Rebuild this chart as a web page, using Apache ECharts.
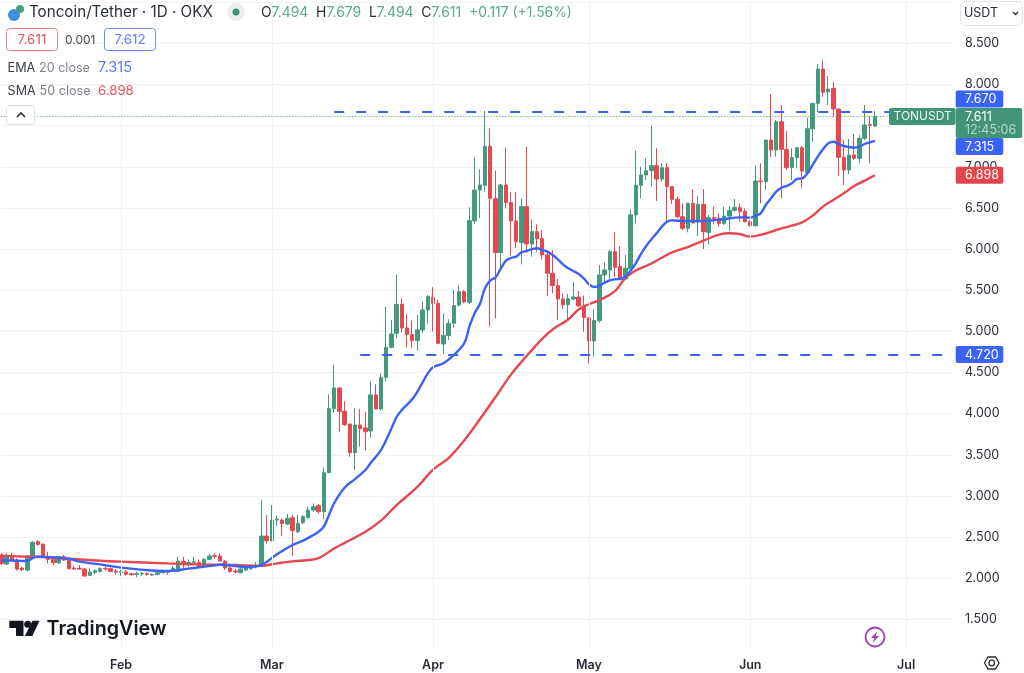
<!DOCTYPE html>
<html><head><meta charset="utf-8">
<style>html,body{margin:0;padding:0;background:#fff}#c{width:1024px;height:673px;filter:blur(0.35px)}</style>
<script src="https://cdn.jsdelivr.net/npm/echarts@6/dist/echarts.min.js"></script>
</head><body><div id="c"></div>
<script>
// Daily candles from 9 Jan, as [open, close, low, high]
const ohlc = [
[2.283,2.181,2.161,2.303],[2.173,2.271,2.161,2.303],[2.275,2.222,2.202,2.311],[2.222,2.113,2.092,2.242],[2.125,2.105,2.092,2.141],
[2.101,2.271,2.080,2.283],[2.271,2.437,2.263,2.449],[2.445,2.412,2.392,2.465],[2.416,2.263,2.254,2.416],[2.263,2.230,2.181,2.323],
[2.230,2.190,2.161,2.263],[2.190,2.263,2.173,2.271],[2.263,2.222,2.210,2.283],[2.222,2.117,2.109,2.230],[2.125,2.113,2.101,2.149],
[2.121,2.113,2.101,2.161],[2.113,2.028,2.019,2.121],[2.036,2.076,2.028,2.121],[2.072,2.092,2.052,2.109],[2.084,2.117,2.072,2.133],
[2.121,2.113,2.092,2.141],[2.117,2.084,2.076,2.129],[2.088,2.076,2.044,2.113],[2.072,2.080,2.028,2.101],[2.076,2.048,2.032,2.101],
[2.056,2.044,2.028,2.068],[2.048,2.056,2.011,2.080],[2.052,2.060,2.028,2.076],[2.056,2.048,2.032,2.072],[2.040,2.048,2.028,2.060],
[2.048,2.068,2.036,2.084],[2.068,2.092,2.060,2.109],[2.084,2.072,2.044,2.101],[2.092,2.121,2.076,2.149],[2.084,2.210,2.076,2.263],
[2.206,2.169,2.121,2.263],[2.165,2.194,2.141,2.230],[2.194,2.202,2.173,2.263],[2.194,2.141,2.129,2.230],[2.141,2.230,2.129,2.242],
[2.230,2.271,2.222,2.295],[2.275,2.267,2.242,2.303],[2.271,2.210,2.202,2.303],[2.206,2.125,2.101,2.222],[2.125,2.084,2.068,2.141],
[2.088,2.076,2.060,2.117],[2.068,2.113,2.060,2.141],[2.101,2.125,2.084,2.157],[2.117,2.141,2.101,2.161],[2.141,2.153,2.121,2.198],
[2.153,2.514,2.153,2.950],[2.514,2.457,2.424,2.769],[2.457,2.708,2.445,2.890],[2.708,2.720,2.635,2.757],[2.708,2.667,2.514,2.728],
[2.659,2.728,2.647,2.781],[2.736,2.578,2.271,2.769],[2.566,2.667,2.546,2.769],[2.676,2.749,2.659,2.769],[2.736,2.829,2.728,2.870],
[2.829,2.870,2.809,2.910],[2.882,2.809,2.789,2.902],[2.810,3.284,2.717,3.349],[3.284,4.062,3.276,4.236],[4.062,4.313,4.013,4.592],
[4.313,4.029,3.778,4.313],[4.029,3.867,3.851,4.151],[3.875,3.527,3.478,3.875],[3.527,3.863,3.316,4.066],[3.863,3.819,3.600,4.058],
[3.827,3.782,3.551,4.021],[3.790,4.228,3.709,4.394],[4.228,4.058,4.058,4.357],[4.058,4.442,4.037,4.491],[4.442,4.807,4.390,5.301],
[4.807,4.969,4.795,5.139],[4.977,5.329,4.916,5.686],[5.329,5.042,4.985,5.402],[5.042,4.961,4.807,5.208],[4.961,4.888,4.799,5.131],
[4.888,5.018,4.766,5.200],[5.018,5.261,4.977,5.362],[5.261,5.422,5.098,5.443],[5.414,5.341,4.997,5.536],[5.341,4.855,4.847,5.382],
[4.847,4.949,4.726,5.220],[4.949,5.098,4.896,5.147],[5.098,5.313,5.046,5.504],[5.321,5.483,5.301,5.560],[5.483,5.358,5.341,5.504],
[5.354,6.346,5.333,6.508],[6.342,6.718,6.305,7.115],[6.718,6.779,6.374,6.970],[6.775,7.249,6.698,7.678],[7.249,6.617,5.058,7.468],
[6.613,5.957,5.159,6.953],[5.957,6.779,5.746,6.791],[6.779,6.565,6.496,7.233],[6.565,6.342,5.921,6.694],[6.342,6.091,6.010,6.694],
[6.079,6.516,5.815,6.613],[6.516,6.062,5.957,7.245],[6.062,6.212,5.908,6.362],[6.212,6.127,5.969,6.301],[6.127,5.929,5.876,6.232],
[5.929,5.706,5.431,5.989],[5.706,5.556,5.463,5.989],[5.556,5.394,5.139,5.637],[5.394,5.325,5.269,5.463],[5.325,5.398,5.147,5.455],
[5.394,5.418,5.382,5.597],[5.418,5.309,5.301,5.491],[5.309,5.167,4.997,5.435],[5.167,4.884,4.612,5.167],[4.884,5.131,4.693,5.269],
[5.131,5.686,5.107,5.807],[5.686,5.746,5.584,5.836],[5.746,5.969,5.625,5.989],[5.969,5.779,5.665,6.204],[5.787,5.645,5.625,6.030],
[5.637,5.767,5.625,5.929],[5.759,6.415,5.746,6.484],[6.415,6.775,6.313,7.196],[6.775,6.901,6.617,7.002],[6.901,6.953,6.840,7.103],
[6.953,7.014,6.759,7.500],[7.014,6.852,6.585,7.225],[6.852,6.990,6.820,7.042],[6.990,6.759,6.334,7.042],[6.759,6.605,6.548,6.767],
[6.605,6.394,6.374,6.637],[6.394,6.252,6.232,6.556],[6.252,6.556,6.204,6.556],[6.556,6.321,6.313,6.730],[6.329,6.544,6.159,6.649],
[6.544,6.212,6.001,6.730],[6.204,6.382,6.058,6.414],[6.382,6.370,6.301,6.515],[6.374,6.313,6.272,6.434],[6.313,6.402,6.293,6.515],
[6.402,6.471,6.220,6.524],[6.471,6.507,6.455,6.609],[6.503,6.459,6.333,6.556],[6.459,6.333,6.325,6.495],[6.333,6.285,6.273,6.354],
[6.285,6.827,6.273,7.014],[6.827,6.819,6.556,7.042],[6.819,7.325,6.718,7.325],[7.325,7.204,7.115,7.880],[7.204,7.548,7.123,7.569],
[7.548,7.212,6.617,7.751],[7.212,6.989,6.961,7.435],[6.993,7.111,6.839,7.224],[7.111,7.232,6.981,7.236],[7.232,6.949,6.746,7.257],
[6.929,7.463,6.921,7.597],[7.463,7.771,7.305,7.771],[7.771,8.188,7.670,8.249],[8.188,7.905,7.852,8.297],[7.913,7.945,7.751,8.103],
[7.953,7.702,7.609,8.034],[7.702,7.115,6.888,7.710],[7.115,6.961,6.779,7.325],[6.961,7.143,6.912,7.338],[7.143,7.103,7.083,7.398],
[7.103,7.346,7.042,7.386],[7.346,7.508,7.325,7.751],[7.512,7.504,7.042,7.617],[7.494,7.611,7.494,7.679]
];
// Moving averages as [day number, value]
const ema20 = [[0,2.220],[3,2.214],[5,2.210],[6,2.246],[7,2.263],[10,2.254],[13,2.238],[15,2.202],[19,2.169],[23,2.129],[27,2.105],[31,2.088],[33,2.092],[36,2.117],[38,2.133],[41,2.157],[42,2.165],[45,2.149],[47,2.137],[49,2.145],[50,2.161],[51,2.198],[53,2.291],[56,2.404],[58,2.457],[60,2.526],[61,2.566],[62,2.627],[63,2.770],[64,2.915],[66,3.101],[68,3.205],[70,3.316],[71,3.400],[73,3.559],[75,3.820],[76,3.960],[77,4.045],[79,4.175],[80,4.268],[82,4.491],[83,4.564],[85,4.612],[87,4.714],[89,4.855],[90,5.058],[91,5.220],[92,5.330],[93,5.524],[94,5.617],[95,5.653],[96,5.759],[97,5.856],[98,5.892],[99,5.908],[100,5.961],[101,5.977],[102,5.998],[103,6.010],[104,5.989],[105,5.969],[106,5.929],[107,5.876],[108,5.815],[109,5.767],[110,5.734],[111,5.698],[112,5.645],[113,5.572],[114,5.540],[115,5.552],[116,5.593],[117,5.621],[118,5.633],[119,5.637],[120,5.665],[121,5.738],[122,5.827],[123,5.941],[124,6.038],[125,6.119],[126,6.192],[127,6.273],[128,6.333],[129,6.349],[130,6.345],[132,6.341],[135,6.341],[139,6.366],[142,6.386],[144,6.382],[145,6.406],[146,6.435],[147,6.536],[148,6.617],[149,6.698],[150,6.746],[151,6.767],[152,6.799],[153,6.852],[154,6.860],[155,6.921],[156,7.022],[157,7.123],[158,7.212],[159,7.285],[160,7.305],[161,7.277],[162,7.253],[163,7.240],[164,7.232],[165,7.245],[166,7.277],[167,7.297],[168,7.315]];
const sma50 = [[0,2.275],[4,2.263],[8,2.258],[13,2.238],[19,2.214],[25,2.198],[32,2.181],[38,2.169],[42,2.165],[45,2.161],[50,2.153],[53,2.182],[56,2.206],[59,2.222],[61,2.245],[64,2.363],[66,2.430],[70,2.565],[73,2.700],[76,2.890],[80,3.110],[83,3.320],[86,3.460],[89,3.675],[92,3.932],[95,4.200],[98,4.475],[101,4.701],[104,4.910],[106,5.024],[109,5.145],[111,5.265],[113,5.330],[115,5.380],[118,5.490],[120,5.650],[122,5.740],[125,5.825],[127,5.895],[129,5.960],[132,6.025],[135,6.102],[138,6.175],[140,6.192],[142,6.183],[144,6.151],[147,6.190],[149,6.232],[152,6.285],[154,6.325],[156,6.406],[158,6.516],[160,6.597],[162,6.678],[164,6.767],[166,6.832],[168,6.898]];
const monthNames = {'2024-02-01':'Feb','2024-03-01':'Mar','2024-04-01':'Apr','2024-05-01':'May','2024-06-01':'Jun','2024-07-01':'Jul'};
const levelHigh = {value:7.670, fromDay:64};
const levelLow = {value:4.720, fromDay:69};
const lastPrice = 7.611;
const tags = [
 {value:7.670,text:'7.670',color:'#3a62f5',shift:-12.7},
 {value:7.315,text:'7.315',color:'#3a62f5',shift:5.6},
 {value:6.898,text:'6.898',color:'#e2454c',shift:0},
 {value:4.720,text:'4.720',color:'#3a62f5',shift:0}
];

const FONT='Inter, "Noto Sans", sans-serif';
const GREEN='#439a7f', RED='#e5484f', BLUE='#3a62f5', GRID='#f1f2f5', INK='#2a2e39';
const categories=[];
for(let d=new Date(Date.UTC(2024,0,9)),i=0;i<184;i++){categories.push(d.toISOString().slice(0,10));d=new Date(d.getTime()+864e5);}
const lastCat=categories[categories.length-1];

const chart=echarts.init(document.getElementById('c'),null,{renderer:'canvas'});
const gridLeft=1.4, gridW=5.2*(categories.length-1), yTop=2.2, yH=658.4;
chart.setOption({
 animation:false,
 grid:{left:gridLeft,top:yTop,width:gridW,height:yH,containLabel:false},
 xAxis:{type:'category',data:categories,boundaryGap:false,
  axisLine:{show:false},axisTick:{show:false},splitLine:{show:false},
  axisLabel:{margin:-2,color:INK,fontFamily:FONT,fontSize:12.5,fontWeight:600,
   interval:(i,v)=>!!monthNames[v],formatter:v=>monthNames[v]||''}},
 yAxis:{type:'value',position:'right',min:1,max:9,interval:0.5,
  axisLine:{show:false},axisTick:{show:false},
  splitLine:{show:true,showMinLine:false,lineStyle:{color:GRID,width:1}},
  axisLabel:{margin:12,color:INK,fontFamily:FONT,fontSize:12.5,padding:[4,0,0,0],
   formatter:v=>(v===1||v===9)?'':v.toFixed(3)}},
 series:[
  {type:'line',z:1,data:[],symbol:'none',silent:true,
   markLine:{silent:true,symbol:'none',label:{show:false},animation:false,
    lineStyle:{color:GRID,width:1,type:'solid'},
    data:Object.keys(monthNames).map(c=>[{coord:[c,1.15]},{coord:[c,9]}])}},
  {type:'candlestick',z:2,data:ohlc,barWidth:4,clip:false,silent:true,
   itemStyle:{color:GREEN,color0:RED,borderColor:GREEN,borderColor0:RED,borderWidth:1}},
  {type:'line',z:3,data:sma50,symbol:'none',smooth:0.4,silent:true,
   lineStyle:{color:RED,width:2.4}},
  {type:'line',z:4,data:ema20,symbol:'none',smooth:0.4,silent:true,
   lineStyle:{color:BLUE,width:2.4},
   markLine:{silent:true,symbol:'none',label:{show:false},animation:false,
    data:[
     [{coord:[categories[levelHigh.fromDay],levelHigh.value],lineStyle:{color:BLUE,width:2.2,type:[10,12]}},{coord:[lastCat,levelHigh.value]}],
     [{coord:[categories[levelLow.fromDay],levelLow.value],lineStyle:{color:BLUE,width:2.2,type:[10,12]}},{coord:[lastCat,levelLow.value]}],
     [{coord:[categories[0],lastPrice],lineStyle:{color:GREEN,width:1,type:[1,2]}},{coord:[lastCat,lastPrice]}]
    ]}}
 ]
});

const py=v=>chart.convertToPixel({yAxisIndex:0},v);
const g=[];
const txt=(x,y,s,size,fill,o={})=>({type:'text',z:30,silent:true,style:Object.assign({x,y,text:s,fontSize:size,fontFamily:FONT,fill,verticalAlign:'middle',textAlign:'left'},o)});
const box=(x,y,w,h,stroke,fill,r)=>({type:'rect',z:20,silent:true,shape:{x,y,width:w,height:h,r},style:{fill:fill||'#fff',stroke:stroke||null,lineWidth:stroke?1:0}});
// header
g.push({type:'circle',z:30,silent:true,shape:{cx:14,cy:15,r:6},style:{fill:'#3e8fe0'}});
g.push({type:'circle',z:30,silent:true,shape:{cx:20,cy:9,r:4},style:{fill:'#4a9a86'}});
g.push(txt(29,12.5,'Toncoin/Tether · 1D · OKX',15.2,INK));
g.push({type:'circle',z:30,silent:true,shape:{cx:236,cy:12,r:9},style:{fill:'#e9f0ee'}});
g.push({type:'circle',z:31,silent:true,shape:{cx:236,cy:12,r:3.5},style:{fill:'#3f9279'}});
g.push({type:'text',z:30,silent:true,style:{x:261,y:12.5,fontFamily:FONT,fontSize:13.9,verticalAlign:'middle',fill:INK,
  text:'{k|O}{v|7.494}  {k|H}{v|7.679}  {k|L}{v|7.494}  {k|C}{v|7.611}  {v|+0.117 (+1.56%)}',
  rich:{k:{fill:INK,fontSize:13.9,fontFamily:FONT},v:{fill:'#5aa88f',fontSize:13.9,fontFamily:FONT}}}});
g.push(box(6.5,28.5,51,22,'#e77a7f','#fff',3)); g.push(txt(32,40,'7.611',13.5,'#e5565c',{textAlign:'center'}));
g.push(txt(65,40,'0.001',12,'#444a55'));
g.push(box(104.5,28.5,51,22,'#6a8cf6','#fff',3)); g.push(txt(130,40,'7.612',13.5,'#5b7df5',{textAlign:'center'}));
g.push(txt(7.6,68,'EMA',12.6,'#3d414c'));
g.push(txt(39,68,'20 close',12.6,'#7d808a'));
g.push(txt(98,68,'7.315',14.6,'#5b7df5'));
g.push(txt(7.6,91,'SMA',12.6,'#3d414c'));
g.push(txt(39.6,91,'50 close',12.6,'#7d808a'));
g.push(txt(98,91,'6.898',13.2,'#e5565c'));
g.push(box(6.5,105.5,28,19,'#dfe1e6','#fff',3));
g.push({type:'polyline',z:30,silent:true,shape:{points:[[17,117],[21,113],[25,117]]},style:{stroke:'#2a2e39',lineWidth:1.6,fill:null}});
// unit box
g.push(box(960.5,1.5,62,24,'#e0e3eb','#fff',5));
g.push(txt(964,13.5,'USDT',12.5,INK));
g.push({type:'polyline',z:30,silent:true,shape:{points:[[1013,12],[1015.5,14.5],[1018,12]]},style:{stroke:'#2a2e39',lineWidth:1.3,fill:null}});
// watermark
g.push({type:'polygon',z:10,silent:true,shape:{points:[[9.3,620.7],[23.5,620.7],[23.5,636],[16,636],[16,628],[9.3,628]]},style:{fill:'#131722'}});
g.push({type:'circle',z:10,silent:true,shape:{cx:27.7,cy:624.3,r:3.5},style:{fill:'#131722'}});
g.push({type:'polygon',z:10,silent:true,shape:{points:[[32.5,620.7],[39.6,620.7],[32.3,636],[24.8,636]]},style:{fill:'#131722'}});
g.push(txt(46.5,629,'TradingView',19.7,'#131722',{fontWeight:600}));
// bolt and gear
g.push({type:'circle',z:30,silent:true,shape:{cx:875,cy:637,r:9.5},style:{fill:'#fff',stroke:'#9b3fb5',lineWidth:1.8}});
g.push({type:'polygon',z:31,silent:true,shape:{points:[[877.5,631],[871,638],[874.5,638],[872.5,643],[879,636],[875.5,636]]},style:{fill:'#9b3fb5'}});
g.push({type:'polygon',z:30,silent:true,shape:{points:[[984.5,663],[988,657],[995.5,657],[999,663],[995.5,669],[988,669]]},style:{fill:'#fff',stroke:'#2a2e39',lineWidth:1.3}});
g.push({type:'circle',z:31,silent:true,shape:{cx:991.7,cy:663,r:2.8},style:{fill:'#fff',stroke:'#2a2e39',lineWidth:1.3}});
// price tags, placed from the axis scale
tags.forEach(t=>{const y=py(t.value)+t.shift;
 g.push(box(955.7,y-8.5,47.6,17,null,t.color,2));
 g.push(txt(965,y+0.3,t.text,12.5,'#fff'));});
const yl=py(lastPrice);
g.push(box(889,yl-8.5,66.5,17,null,'#429479',2));
g.push(txt(893.5,yl+0.3,'TONUSDT',12,'#f2f7f5'));
g.push(box(955.7,yl-8.5,66.5,30,null,'#429479',2));
g.push(txt(965,yl+0.3,'7.611',12.5,'#fff'));
g.push(txt(965,yl+14,'12:45:06',12.5,'#b6d6ca'));
chart.setOption({graphic:{elements:g}});
</script></body></html>
